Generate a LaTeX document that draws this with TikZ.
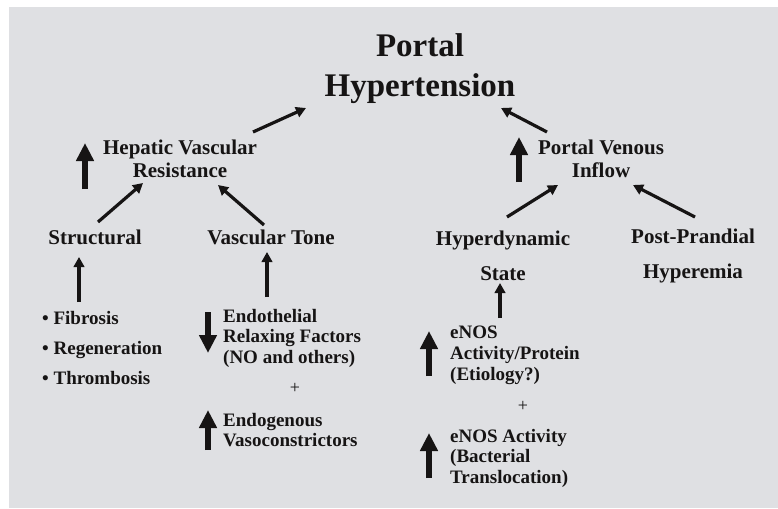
\documentclass[tikz,border=0pt]{standalone}
\usepackage{fontspec}
\setmainfont{Liberation Serif}
\usepackage{tikz}
\usetikzlibrary{arrows.meta, calc}
\definecolor{panel}{RGB}{223,224,227}
\definecolor{ink}{RGB}{22,20,20}

\begin{document}
\begin{tikzpicture}[x=1pt, y=-1pt,
  lbl/.style={inner sep=0, text=ink, font=\bfseries\fontsize{21}{23}\selectfont, align=center},
  small/.style={inner sep=0, text=ink, font=\bfseries\fontsize{19}{20.5}\selectfont, align=left, anchor=west},
  conn/.style={draw=ink, line width=3.2pt, -{Triangle[width=10.5pt,length=10pt]}},
  fat/.style={draw=ink, line width=6.5pt, -{Triangle[width=17pt,length=18pt]}}]
\useasboundingbox (0,0) rectangle (778,508);
\fill[panel] (9,7) rectangle (778,508);

% Top
\node[lbl, font=\bfseries\fontsize{33}{40}\selectfont] (title) at (420,69) {Portal\\Hypertension};
\node[lbl] (hvr) at (180,159) {Hepatic Vascular\\Resistance};
\node[lbl] (pvi) at (601,159) {Portal Venous\\Inflow};
\draw[fat] (85,189) -- (85,143);
\draw[fat] (519,182) -- (519,137);
\draw[conn] ($(hvr)+(73,-27)$) -- ($(title)+(-114,39)$);
\draw[conn] ($(pvi)+(-54,-27)$) -- ($(title)+(81,39)$);

% Middle
\node[lbl] (struct) at (95,237) {Structural};
\node[lbl] (tone) at (271,237) {Vascular Tone};
\node[lbl, font=\bfseries\fontsize{21}{35}\selectfont] (hyper) at (503,256) {Hyperdynamic\\State};
\node[lbl, font=\bfseries\fontsize{21}{35}\selectfont] (post) at (693,256) {Post-Prandial\\Hyperemia};
\draw[conn] ($(struct)+(3,-15)$) -- ($(hvr)+(-37,24)$);
\draw[conn] ($(tone)+(-7,-12)$) -- ($(hvr)+(38,26)$);
\draw[conn] ($(hyper)+(4,-39)$) -- ($(pvi)+(-43,26)$);
\draw[conn] ($(post)+(2,-39)$) -- ($(pvi)+(32,26)$);

% Bottom left
\node[small, font=\bfseries\fontsize{19}{30}\selectfont] (bul) at (42,348)
  {\textbullet{} Fibrosis\\\textbullet{} Regeneration\\\textbullet{} Thrombosis};
\node[small] (endo) at (223,338) {Endothelial\\Relaxing Factors\\(NO and others)};
\node[inner sep=0, text=ink, font=\fontsize{18}{18}\selectfont] (plusA) at (295,388) {+};
\node[small] (vaso) at (223,430) {Endogenous\\Vasoconstrictors};
\draw[fat] (208,312) -- (208,353);
\draw[fat] (208,450) -- (208,410);
\draw[conn] ($(bul.west)+(37,-46)$) -- ($(struct)+(-16,20)$);
\draw[conn] ($(endo.west)+(44,-41)$) -- ($(tone)+(-4,15)$);

% Bottom right
\node[small, font=\bfseries\fontsize{19}{21}\selectfont] (enos) at (450,355) {eNOS\\Activity/Protein\\(Etiology?)};
\node[inner sep=0, text=ink, font=\fontsize{18}{18}\selectfont] (plusB) at (523,406) {+};
\node[small] (bact) at (450,458) {eNOS Activity\\(Bacterial\\Translocation)};
\draw[fat] (429,376) -- (429,331);
\draw[fat] (429,478) -- (429,433);
\draw[conn] ($(enos.west)+(50,-37)$) -- ($(hyper)+(-3,27)$);
\end{tikzpicture}
\end{document}
